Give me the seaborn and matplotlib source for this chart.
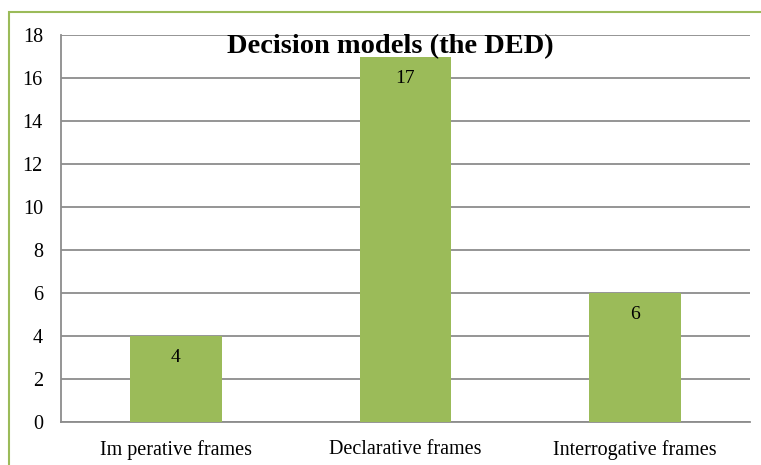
import matplotlib.pyplot as plt
import matplotlib.patches as mpatches
import seaborn as sns
import pandas as pd

categories = ['Im perative frames', 'Declarative frames', 'Interrogative frames']
values = [4, 17, 6]
yticks = [0, 2, 4, 6, 8, 10, 12, 14, 16, 18]

bar_color = '#9BBB59'
grid_color = '#8C8C8C'

sns.set_style('white')
plt.rcParams['font.family'] = ['Liberation Serif', 'DejaVu Serif']
plt.rcParams['text.color'] = 'black'
plt.rcParams['xtick.color'] = 'black'
plt.rcParams['ytick.color'] = 'black'

fig = plt.figure(figsize=(7.61, 4.65), dpi=100)
ax = fig.add_axes([61 / 761, 1 - 422 / 465, (750 - 61) / 761, (422 - 35) / 465])

df = pd.DataFrame({'cat': categories, 'val': values})
sns.barplot(data=df, x='cat', y='val', color=bar_color, saturation=1,
            width=0.4, linewidth=0, ax=ax, zorder=3)

ax.set_xlim(-0.5, 2.5)
ax.set_ylim(0, 18)
ax.set_yticks(yticks)
ax.yaxis.grid(True, color=grid_color, linewidth=1.3, zorder=0)
ax.set_axisbelow(True)
ax.set_xlabel('')
ax.set_ylabel('')

# category labels centred, tick marks at category boundaries
ax.set_xticks([0, 1, 2])
ax.set_xticklabels(categories, fontsize=14.5)
ax.tick_params(axis='x', length=0, pad=13)
ax.set_xticks([-0.5, 0.5, 1.5, 2.5], minor=True)
ax.tick_params(axis='x', which='minor', length=5, color=grid_color, width=1.2)
ax.tick_params(axis='y', length=6, color=grid_color, width=1.2, labelsize=14.5, pad=7)

for s in ['top', 'right']:
    ax.spines[s].set_visible(False)
for s in ['left', 'bottom']:
    ax.spines[s].set_color(grid_color)
    ax.spines[s].set_linewidth(1.3)

for i, v in enumerate(values):
    ax.text(i, v - 1.0, str(v), ha='center', va='center', fontsize=14, zorder=4)

fig.text(0.513, 1 - 47 / 465, 'Decision models (the DED)', ha='center', va='center',
         fontsize=20.5, fontweight='bold', zorder=5)

# outer green frame (cut off at right and bottom)
frame = mpatches.Rectangle((9 / 761, -0.05), 1.1, 1 - 12 / 465 + 0.05,
                           transform=fig.transFigure, fill=False,
                           edgecolor=bar_color, linewidth=1.5, clip_on=False)
fig.patches.append(frame)

fig.savefig('out.png', dpi=100)
